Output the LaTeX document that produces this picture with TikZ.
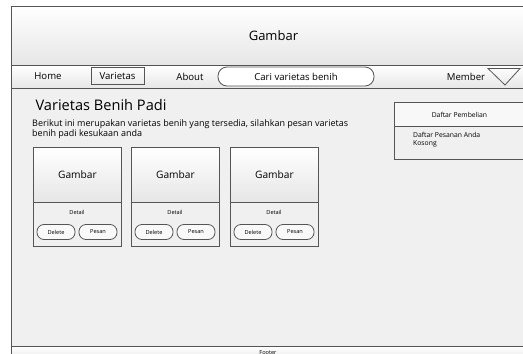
\documentclass[tikz,border=0pt]{standalone}
\usepackage{fontspec}
\setmainfont{Open Sans}
\usetikzlibrary{positioning}

\definecolor{garis}{HTML}{555555}
\definecolor{latar}{HTML}{F0F0F0}
\definecolor{pudar}{HTML}{E6E6E6}

\tikzset{
  panel/.style={draw=garis, line width=0.9pt, anchor=north west, inner sep=0pt, top color=white, bottom color=pudar},
  isi/.style={draw=garis, line width=0.9pt, anchor=north west, inner sep=0pt, fill=latar},
  tombol/.style={draw=garis, line width=0.8pt, rounded corners=7pt, minimum width=38pt, minimum height=15pt, inner sep=0pt, fill=white!60!latar, font=\fontsize{5.6}{6.5}\selectfont},
  menu/.style={font=\fontsize{9.6}{11}\selectfont},
}

\begin{document}
\begin{tikzpicture}[x=1pt, y=-1pt]
\useasboundingbox (0,0) rectangle (523,354);
\clip (0,0) rectangle (523,354);

% kerangka halaman
\node[isi, minimum width=524pt, minimum height=281pt] (badan) at (11,65) {};
\node[panel, minimum width=524pt, minimum height=59pt] (kepala) at (11,6) {};
\node at (kepala.center) [font=\fontsize{13}{15}\selectfont] (gambar) {Gambar};
\node[panel, minimum width=524pt, minimum height=23pt] (nav) at (11,65) {};
\node[panel, minimum width=524pt, minimum height=14pt] (kaki) at (11,346) {};
\node[font=\fontsize{5.6}{6.5}\selectfont, anchor=north] (footer) at (268,346.5) {Footer};

% menu
\node[menu] (home) at (48,76.5) {Home};
\node[menu, draw=garis, line width=0.9pt, minimum width=53pt, minimum height=17pt, inner sep=0pt] (varietas) at (117.5,76) {Varietas};
\node[menu] (about) at (190,76.5) {About};
\node[menu, draw=garis, line width=0.8pt, rounded corners=9pt, minimum width=156pt, minimum height=19pt, inner sep=0pt, fill=white] (cari) at (296,76.5) {Cari varietas benih};
\node[menu] (member) at (466,76.5) {Member};
\draw[garis, line width=0.8pt] (488,68.5) -- (520,68.5) -- (505,85) -- cycle;

% judul dan keterangan
\node[anchor=west, font=\fontsize{14.6}{17}\selectfont] (judul) at (32,105) {Varietas Benih Padi};
\node[anchor=north west, align=left, inner sep=0pt, font=\fontsize{9}{10.5}\selectfont] (ket) at (32,119) {Berikut ini merupakan varietas benih yang tersedia, silahkan pesan varietas\\benih padi kesukaan anda};

% kartu 1
\node[panel, minimum width=88pt, minimum height=55pt] (atas1) at (33,147) {};
\node[isi, minimum width=88pt, minimum height=44pt] (bawah1) at (33,202) {};
\node at (atas1.center) [font=\fontsize{10.2}{12}\selectfont] (gb1) {Gambar};
\node[font=\fontsize{5.6}{6.5}\selectfont] (det1) at (77,212) {Detail};
\node[tombol] (del1) at (56,232) {Delete};
\node[tombol] (pes1) at (98,232) {Pesan};

% kartu 2
\node[panel, minimum width=88pt, minimum height=55pt] (atas2) at (131,147) {};
\node[isi, minimum width=88pt, minimum height=44pt] (bawah2) at (131,202) {};
\node at (atas2.center) [font=\fontsize{10.2}{12}\selectfont] (gb2) {Gambar};
\node[font=\fontsize{5.6}{6.5}\selectfont] (det2) at (175,212) {Detail};
\node[tombol] (del2) at (154,232) {Delete};
\node[tombol] (pes2) at (196,232) {Pesan};

% kartu 3
\node[panel, minimum width=88pt, minimum height=55pt] (atas3) at (230,147) {};
\node[isi, minimum width=88pt, minimum height=44pt] (bawah3) at (230,202) {};
\node at (atas3.center) [font=\fontsize{10.2}{12}\selectfont] (gb3) {Gambar};
\node[font=\fontsize{5.6}{6.5}\selectfont] (det3) at (274,212) {Detail};
\node[tombol] (del3) at (253,232) {Delete};
\node[tombol] (pes3) at (295,232) {Pesan};

% daftar pembelian
\node[isi, fill=white!50!latar, minimum width=130pt, minimum height=24pt] (daftar) at (394,102) {};
\node[isi, minimum width=130pt, minimum height=33pt] (pesanan) at (394,126) {};
\node at (daftar.center) [font=\fontsize{6.8}{8}\selectfont] (pembelian) {Daftar Pembelian};
\node[anchor=north west, align=left, inner sep=0pt, font=\fontsize{6.8}{8.5}\selectfont] (kosong) at (413,132) {Daftar Pesanan Anda\\Kosong};
\end{tikzpicture}
\end{document}
